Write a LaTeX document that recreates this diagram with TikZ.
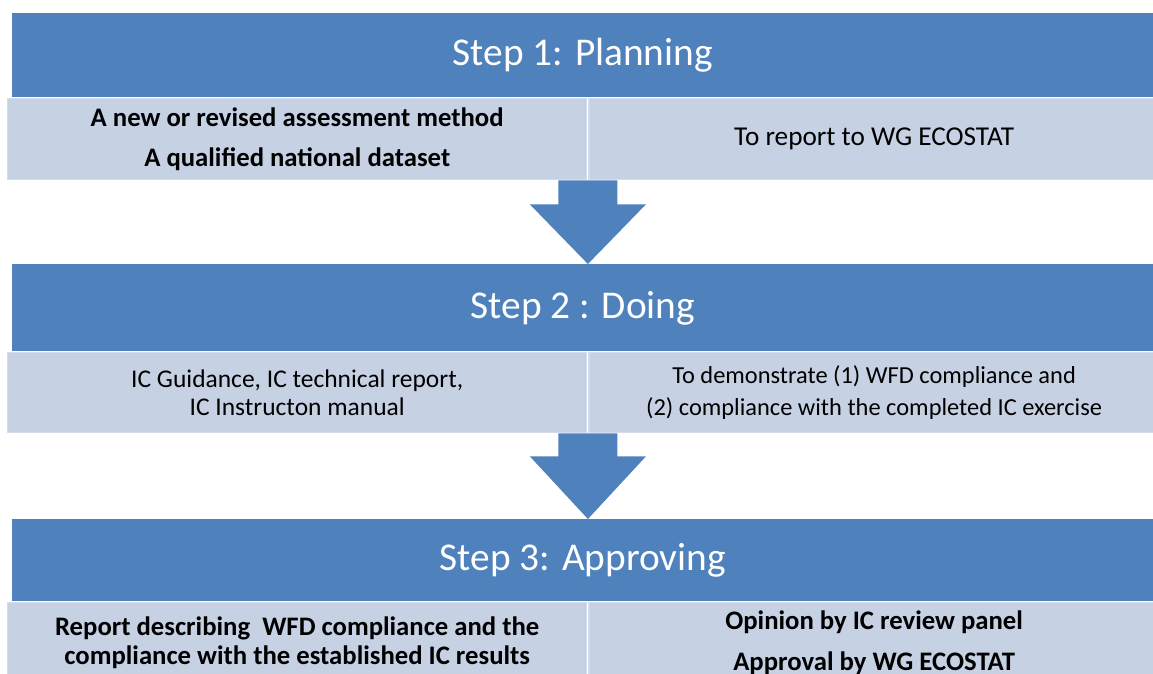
\documentclass[tikz,border=0pt]{standalone}
\usepackage{fontspec}
\setmainfont{Carlito}
\usetikzlibrary{positioning,calc}

\definecolor{headblue}{HTML}{4F81BD}
\definecolor{rowfill}{HTML}{C6D1E4}
\definecolor{rowedge}{HTML}{D4DCEB}

\begin{document}
\begin{tikzpicture}[
  stephead/.style={rectangle, fill=headblue, text=white, minimum width=22.82cm, inner sep=0pt, anchor=north west, font=\fontsize{22.4}{26}\selectfont},
  stepbox/.style={rectangle, fill=rowfill, draw=rowedge, line width=0.8pt, inner sep=0pt, align=center, font=\fontsize{14.2}{16}\selectfont},
  boldbox/.style={stepbox, font=\fontsize{15.2}{16}\selectfont\bfseries},
  flowarrow/.style={fill=headblue}
]
  \useasboundingbox (0,0) rectangle (23.06,-13.48);

  % Step 1
  \node[stephead, minimum height=1.68cm] (head1) at (0.24,-0.26) {Step 1: Planning};
  \node[boldbox, anchor=north west, minimum width=11.58cm, minimum height=1.62cm] (row1l) at (0.14,-1.96) {A new or revised assessment method \\[6.7pt] A qualified national dataset};
  \node[stepbox, right=0.02cm of row1l, minimum width=11.4cm, minimum height=1.62cm, font=\fontsize{15.5}{16}\selectfont] (row1r) {To report to WG ECOSTAT};

  % Step 2
  \node[stephead, minimum height=1.74cm] (head2) at (0.24,-5.28) {Step 2 : Doing};
  \node[stepbox, anchor=north west, minimum width=11.58cm, minimum height=1.6cm, font=\fontsize{14.5}{16}\selectfont] (row2l) at (0.14,-7.04) {IC Guidance, IC technical report, \\ IC Instructon manual};
  \node[stepbox, right=0.02cm of row2l, minimum width=11.4cm, minimum height=1.6cm, font=\fontsize{13.9}{16}\selectfont] (row2r) {To demonstrate (1) WFD compliance and \\[2pt] (2) compliance with the completed IC exercise};

  % Step 3
  \node[stephead, minimum height=1.64cm] (head3) at (0.24,-10.38) {Step 3: Approving};
  \node[boldbox, anchor=north west, minimum width=11.58cm, minimum height=1.6cm] (row3l) at (0.14,-12.04) {Report describing\ \ WFD compliance and the \\ compliance with the established IC results};
  \node[boldbox, right=0.02cm of row3l, minimum width=11.4cm, minimum height=1.6cm] (row3r) {Opinion by IC review panel \\[7.2pt] Approval by WG ECOSTAT};

  % Arrows between steps
  \coordinate (a1) at ($(row1l.south east)!0.5!(row1r.south west)$);
  \fill[flowarrow] ([xshift=-0.59cm]a1) -- ++(0,-0.48) -- ++(-0.57,0) -- (a1 |- head2.north)
    -- ([xshift=1.16cm,yshift=-0.48cm]a1) -- ++(-0.57,0) -- ([xshift=0.59cm]a1) -- cycle;

  \coordinate (a2) at ($(row2l.south east)!0.5!(row2r.south west)$);
  \fill[flowarrow] ([xshift=-0.59cm]a2) -- ++(0,-0.46) -- ++(-0.57,0) -- (a2 |- head3.north)
    -- ([xshift=1.16cm,yshift=-0.46cm]a2) -- ++(-0.57,0) -- ([xshift=0.59cm]a2) -- cycle;

\end{tikzpicture}
\end{document}
